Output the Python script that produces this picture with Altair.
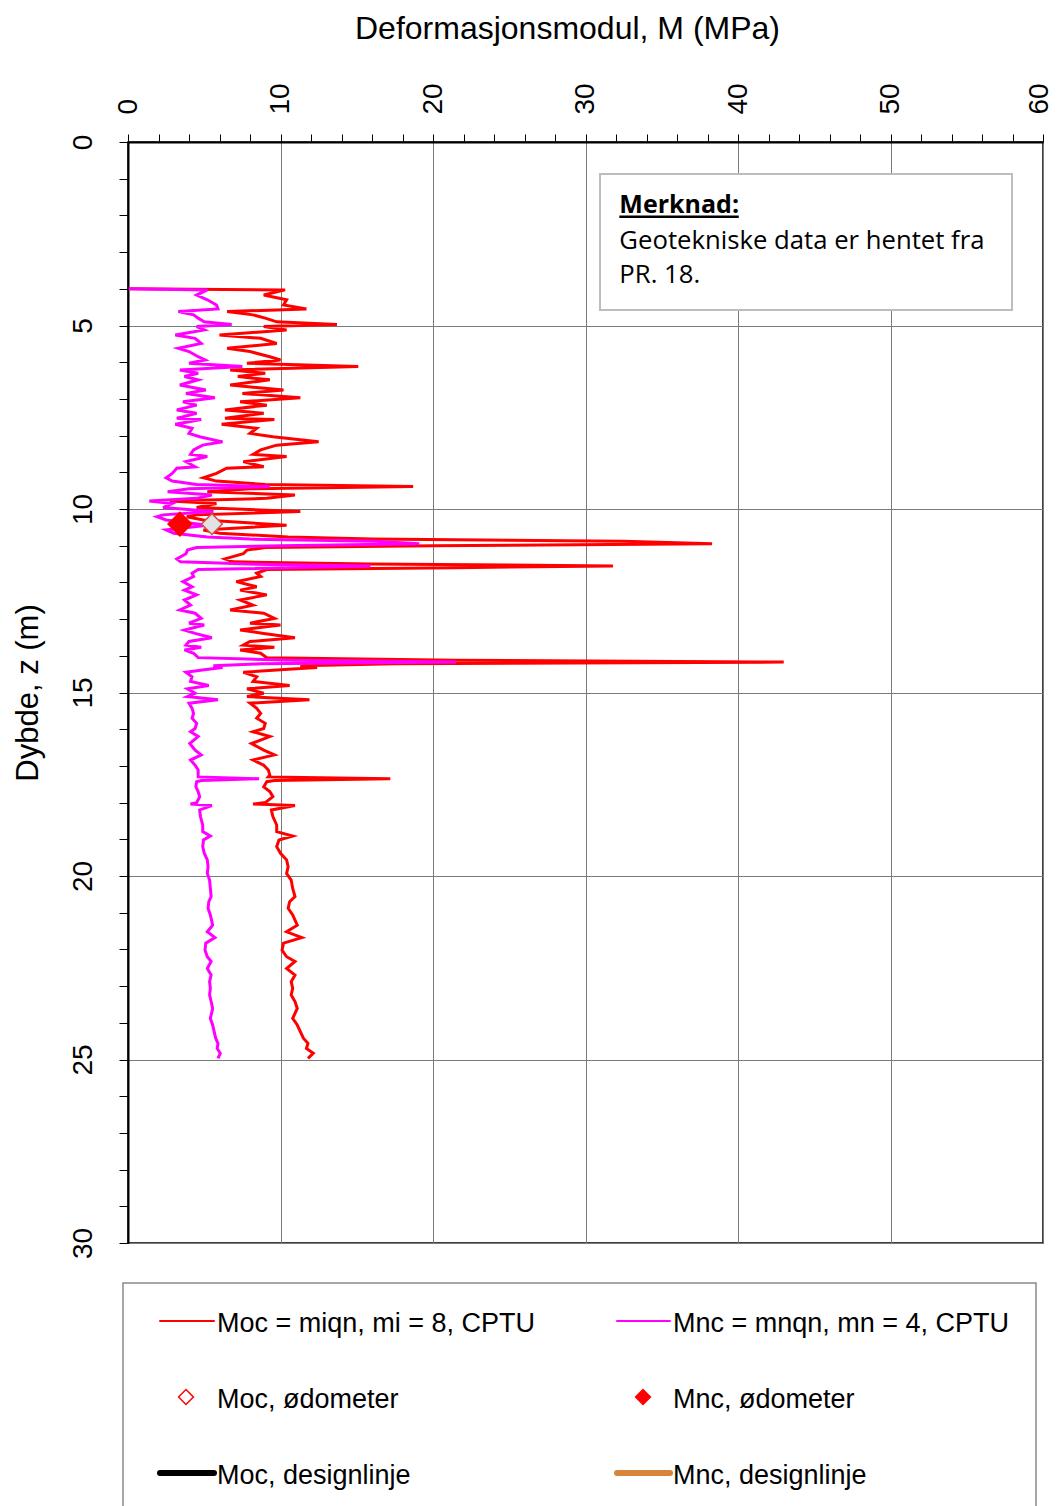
import altair as alt
import pandas as pd

# ---------------- data ----------------
depth = [4.00, 4.03, 4.17, 4.30, 4.44, 4.55, 4.62, 4.71, 4.80, 4.90, 4.97,
         5.03, 5.12, 5.26, 5.35, 5.49, 5.62, 5.71, 5.85, 5.94, 6.03, 6.12,
         6.21, 6.30, 6.39, 6.48, 6.62, 6.76, 6.85, 6.97, 7.08, 7.17, 7.30,
         7.39, 7.53, 7.56, 7.69, 7.80, 7.94, 8.03, 8.17, 8.26, 8.39, 8.51,
         8.57, 8.71, 8.85, 8.89, 9.03, 9.15, 9.24, 9.33, 9.39, 9.45, 9.53,
         9.62, 9.71, 9.78, 9.85, 9.96, 10.07, 10.16, 10.21, 10.30, 10.44,
         10.57, 10.66, 10.76, 10.82, 10.88, 10.95, 11.00, 11.05, 11.12, 11.22,
         11.36, 11.44, 11.50, 11.55, 11.60, 11.65, 11.75, 11.84, 11.98, 12.12,
         12.21, 12.34, 12.48, 12.62, 12.75, 12.84, 12.98, 13.11, 13.16, 13.30,
         13.39, 13.51, 13.61, 13.71, 13.77, 13.84, 13.93, 14.05, 14.12, 14.17,
         14.22, 14.27, 14.32, 14.38, 14.45, 14.57, 14.70, 14.81, 14.90, 15.02,
         15.11, 15.20, 15.29, 15.43, 15.57, 15.70, 15.84, 15.98, 16.07, 16.20,
         16.39, 16.57, 16.70, 16.84, 16.98, 17.11, 17.25, 17.30, 17.35, 17.40,
         17.43, 17.57, 17.70, 17.84, 18.00, 18.04, 18.08, 18.20, 18.38, 18.61,
         18.79, 18.91, 19.02, 19.20, 19.38, 19.56, 19.75, 19.93, 20.11, 20.34,
         20.56, 20.70, 20.88, 21.06, 21.34, 21.52, 21.68, 21.83, 22.02, 22.20,
         22.33, 22.52, 22.70, 22.88, 23.06, 23.24, 23.42, 23.61, 23.88, 24.06,
         24.24, 24.42, 24.56, 24.70, 24.83, 24.97]

moc = [0.1, 10.3, 8.9, 10.4, 10.2, 11.7, 6.5, 8.2, 9.0, 9.75, 13.7,
       8.9, 10.4, 6.0, 8.7, 9.75, 6.5, 8.0, 9.3, 10.0, 7.8, 15.1,
       6.7, 9.0, 7.2, 9.3, 6.7, 10.2, 7.5, 11.3, 7.35, 9.1, 6.36,
       8.9, 6.36, 9.6, 6.14, 8.44, 8.0, 9.5, 12.5, 9.75, 8.7, 8.2,
       10.4, 7.56, 8.9, 6.47, 5.8, 4.94, 5.8, 9.0, 18.7, 8.0, 5.2,
       10.95, 9.1, 2.75, 5.8, 4.5, 11.3, 4.5, 3.85, 4.94, 10.4,
       4.94, 6.0, 10.5, 16.0, 32.5, 38.3, 20.0, 9.0, 7.8, 7.56,
       6.36, 6.9, 15.8, 31.8, 21.5, 9.1, 8.44, 8.7, 7.1, 8.44,
       7.35, 9.1, 7.35, 8.2, 6.7, 8.9, 9.6, 8.0, 10.0, 7.35,
       8.9, 10.95, 8.0, 7.56, 9.6, 7.35, 8.7, 9.1, 21.5, 43.0,
       17.5, 11.3, 12.4, 10.0, 7.56, 8.44, 8.2, 10.6, 7.8, 8.9,
       7.8, 11.9, 8.0, 8.44, 8.7, 8.44, 9.0, 8.9, 8.2, 9.3,
       8.1, 8.9, 9.6, 8.2, 8.9, 9.2, 9.3, 9.2, 17.2, 9.6,
       9.1, 8.9, 9.3, 9.5, 9.0, 8.2, 10.95, 9.4, 9.5, 9.75,
       9.75, 10.8, 9.9, 9.75, 10.0, 10.4, 10.5, 10.4, 10.7, 10.8,
       10.95, 10.6, 10.5, 10.8, 11.1, 10.4, 11.4, 10.2, 10.1, 10.4,
       10.95, 10.4, 10.95, 10.7, 10.8, 10.7, 10.95, 11.1, 10.8, 11.1,
       11.3, 11.5, 11.8, 11.7, 12.15, 11.8]

mnc = [0.05, 5.2, 4.5, 5.2, 5.8, 5.9, 3.3, 4.3, 4.6, 5.0, 6.8,
       4.5, 5.0, 3.1, 4.4, 4.8, 3.3, 4.0, 4.6, 5.05, 4.0, 7.5,
       3.4, 4.6, 3.7, 4.6, 3.4, 5.1, 3.8, 5.7, 3.6, 4.5, 3.2,
       4.5, 3.2, 4.8, 3.1, 4.2, 4.0, 4.7, 6.2, 4.9, 4.3, 4.1,
       5.2, 3.8, 4.4, 3.2, 2.9, 2.5, 2.9, 4.5, 9.3, 4.0, 2.6,
       5.5, 4.5, 1.4, 2.9, 2.3, 5.6, 2.3, 1.9, 2.5, 5.2,
       2.5, 3.0, 5.2, 8.0, 16.2, 19.1, 10.0, 4.5, 3.9, 3.8,
       3.2, 3.45, 7.9, 15.9, 10.7, 4.6, 4.2, 4.3, 3.6, 4.2,
       3.7, 4.5, 3.7, 4.1, 3.4, 4.4, 4.8, 4.0, 5.0, 3.7,
       4.4, 5.5, 4.0, 3.8, 4.8, 3.7, 4.3, 4.6, 10.7, 21.5,
       8.7, 5.6, 6.2, 5.0, 3.8, 4.2, 4.1, 5.3, 3.9, 4.4,
       3.9, 5.9, 4.0, 4.2, 4.3, 4.2, 4.5, 4.4, 4.1, 4.6,
       4.05, 4.4, 4.8, 4.1, 4.4, 4.6, 4.6, 4.6, 8.6, 4.8,
       4.5, 4.45, 4.6, 4.7, 4.5, 4.1, 5.5, 4.7, 4.75, 4.9,
       4.9, 5.4, 4.95, 4.9, 5.0, 5.2, 5.25, 5.2, 5.35, 5.4,
       5.45, 5.3, 5.25, 5.4, 5.55, 5.2, 5.7, 5.1, 5.05, 5.2,
       5.45, 5.2, 5.45, 5.35, 5.4, 5.35, 5.45, 5.55, 5.4, 5.55,
       5.65, 5.75, 5.9, 5.85, 6.05, 5.9]

odo_labels = ["Moc, ødometer", "Mnc, ødometer"]
odo_depth = [10.41, 10.41]
odo_value = [5.5, 3.4]

legend_labels = ["Moc = miqn, mi = 8, CPTU", "Mnc = mnqn, mn = 4, CPTU",
                 "Moc, ødometer", "Mnc, ødometer",
                 "Moc, designlinje", "Mnc, designlinje"]

note_title = "Merknad:"
note_lines = ["Geotekniske data er hentet fra", "PR. 18."]

x_ticks = list(range(0, 61, 2))
y_ticks = list(range(0, 31))

# ---------------- tables ----------------
cptu = pd.DataFrame({"idx": list(range(len(depth))), "z": depth, "moc": moc, "mnc": mnc})
odo = pd.DataFrame({"label": odo_labels, "z": odo_depth, "m": odo_value})

W, H = 915, 1101
FONT = "Liberation Sans"

XS = alt.Scale(domain=[0, 60], nice=False, zero=False)
YS = alt.Scale(domain=[0, 30], reverse=True, nice=False, zero=False)

x_axis = alt.Axis(
    orient="top", values=x_ticks, title="Deformasjonsmodul, M (MPa)",
    labelExpr="datum.value % 10 === 0 ? datum.label : ''",
    labelAngle=270, labelAlign="left", labelBaseline="middle",
    labelOffset={"condition": {"test": "datum.value === 60", "value": -4}, "value": 0},
    labelPadding=20, labelFont=FONT, labelFontSize=28, labelColor="black",
    labelFlush=False, labelOverlap=False, labelBound=False,
    tickSize=8, tickColor="black", tickWidth=1,
    domainColor="black", domainWidth=2,
    grid=True, gridColor="#7a7a7a", gridWidth=1,
    gridOpacity={"condition": {"test": "datum.value % 10 === 0", "value": 1}, "value": 0},
    titleFont=FONT, titleFontSize=32, titleFontWeight="normal", titleColor="black",
    titlePadding=37, titleX=439,
)
y_axis = alt.Axis(
    orient="left", values=y_ticks, title="Dybde, z (m)",
    labelExpr="datum.value % 5 === 0 ? datum.label : ''",
    labelAngle=270, labelAlign="center", labelBaseline="alphabetic",
    labelPadding=28, labelFont=FONT, labelFontSize=28, labelColor="black",
    labelFlush=False, labelOverlap=False, labelBound=False,
    tickSize=9, tickColor="black", tickWidth=1,
    domainColor="black", domainWidth=2,
    grid=True, gridColor="#7a7a7a", gridWidth=1,
    gridOpacity={"condition": {"test": "datum.value % 5 === 0", "value": 1}, "value": 0},
    titleFont=FONT, titleFontSize=31, titleFontWeight="normal", titleColor="black",
    titlePadding=25,
)


def X(field):
    return alt.X(field, scale=XS, axis=x_axis)


def Y(field):
    return alt.Y(field, scale=YS, axis=y_axis)


base = alt.Chart(cptu)

red = base.mark_line(color="#ff0000", strokeWidth=3, strokeJoin="miter").encode(
    x=X("moc:Q"), y=Y("z:Q"), order=alt.Order("idx:Q"),
)
mag = base.mark_line(color="#ff00ff", strokeWidth=3, strokeJoin="miter").encode(
    x=X("mnc:Q"), y=Y("z:Q"), order=alt.Order("idx:Q"),
)

odo_pts = alt.Chart(odo).mark_point(shape="diamond", filled=True, opacity=1, strokeWidth=1.5).encode(
    x=X("m:Q"), y=Y("z:Q"),
    fill=alt.Fill("label:N", scale=alt.Scale(domain=odo_labels, range=["#e2e2e2", "#ff0000"]), legend=None),
    stroke=alt.Stroke("label:N", scale=alt.Scale(domain=odo_labels, range=["#d05050", "#ff0000"]), legend=None),
    size=alt.Size("label:N", scale=alt.Scale(domain=odo_labels, range=[430, 560]), legend=None),
)

# ---------------- note box (data coordinates) ----------------
note_box = pd.DataFrame({"x": [30.95], "x2": [57.97], "y": [0.872], "y2": [4.578]})
box = alt.Chart(note_box).mark_rect(fill="white", stroke="#bdbdbd", strokeWidth=2).encode(
    x=X("x:Q"), x2="x2:Q", y=Y("y:Q"), y2="y2:Q",
)
note_t = pd.DataFrame({"x": [32.22], "y": [1.94], "t": [note_title]})
note_title_mark = alt.Chart(note_t).mark_text(
    align="left", baseline="alphabetic", font="Open Sans", fontSize=25, fontWeight="bold", color="black"
).encode(x=X("x:Q"), y=Y("y:Q"), text="t:N")
note_u = pd.DataFrame({"x": [32.22], "x2": [40.05], "y": [2.035]})
underline = alt.Chart(note_u).mark_rule(color="black", strokeWidth=2.5).encode(
    x=X("x:Q"), x2="x2:Q", y=Y("y:Q")
)
note_l = pd.DataFrame({"x": [32.22, 32.22], "y": [2.92, 3.85], "t": note_lines})
note_lines_mark = alt.Chart(note_l).mark_text(
    align="left", baseline="alphabetic", font="Open Sans", fontSize=25.7, color="black"
).encode(x=X("x:Q"), y=Y("y:Q"), text="t:N")

# ---------------- custom legend below the plot (pixel layout) ----------------
leg_box = pd.DataFrame({"x": [-5], "x2": [908], "y": [1141], "y2": [1420]})
leg_frame = alt.Chart(leg_box).mark_rect(fill="white", stroke="#8a8a8a", strokeWidth=1.5, clip=False).encode(
    x=alt.X("x:Q", scale=None), x2="x2:Q",
    y=alt.Y("y:Q", scale=None), y2="y2:Q",
)
leg_lines = pd.DataFrame({
    "x": [32, 489, 32, 489], "x2": [86, 542, 86, 542], "y": [1179, 1179, 1331, 1331],
    "c": ["#ff0000", "#ff00ff", "#000000", "#d9843c"], "w": [2, 2, 6, 6],
})
leg_rules = alt.Chart(leg_lines).mark_rule(strokeCap="round", clip=False).encode(
    x=alt.X("x:Q", scale=None), x2="x2:Q",
    y=alt.Y("y:Q", scale=None),
    color=alt.Color("c:N", scale=None, legend=None),
    strokeWidth=alt.StrokeWidth("w:Q", scale=None, legend=None),
)
leg_pts = pd.DataFrame({"x": [58, 515], "y": [1255, 1255], "f": ["white", "#ff0000"], "s": ["#ff0000", "#ff0000"]})
leg_points = alt.Chart(leg_pts).mark_point(shape="diamond", filled=True, opacity=1, size=220, strokeWidth=1.5, clip=False).encode(
    x=alt.X("x:Q", scale=None),
    y=alt.Y("y:Q", scale=None),
    fill=alt.Fill("f:N", scale=None, legend=None),
    stroke=alt.Stroke("s:N", scale=None, legend=None),
)
leg_txt = pd.DataFrame({
    "x": [89, 545, 89, 545, 89, 545],
    "y": [1182, 1182, 1258, 1258, 1334, 1334],
    "t": legend_labels,
})
leg_text = alt.Chart(leg_txt).mark_text(
    align="left", baseline="middle", font=FONT, fontSize=27, color="black", clip=False
).encode(
    x=alt.X("x:Q", scale=None),
    y=alt.Y("y:Q", scale=None),
    text="t:N",
)

chart = alt.layer(
    red, mag, odo_pts, box, note_title_mark, underline, note_lines_mark,
    leg_frame, leg_rules, leg_points, leg_text,
).properties(
    width=W, height=H,
    autosize=alt.AutoSizeParams(type="none"),
    padding={"top": 134, "left": 120, "right": 10, "bottom": 263},
    background="white",
).configure_view(stroke="black", strokeWidth=1.5)

chart.save("out.html", embed_options={"renderer": "svg", "actions": False})
